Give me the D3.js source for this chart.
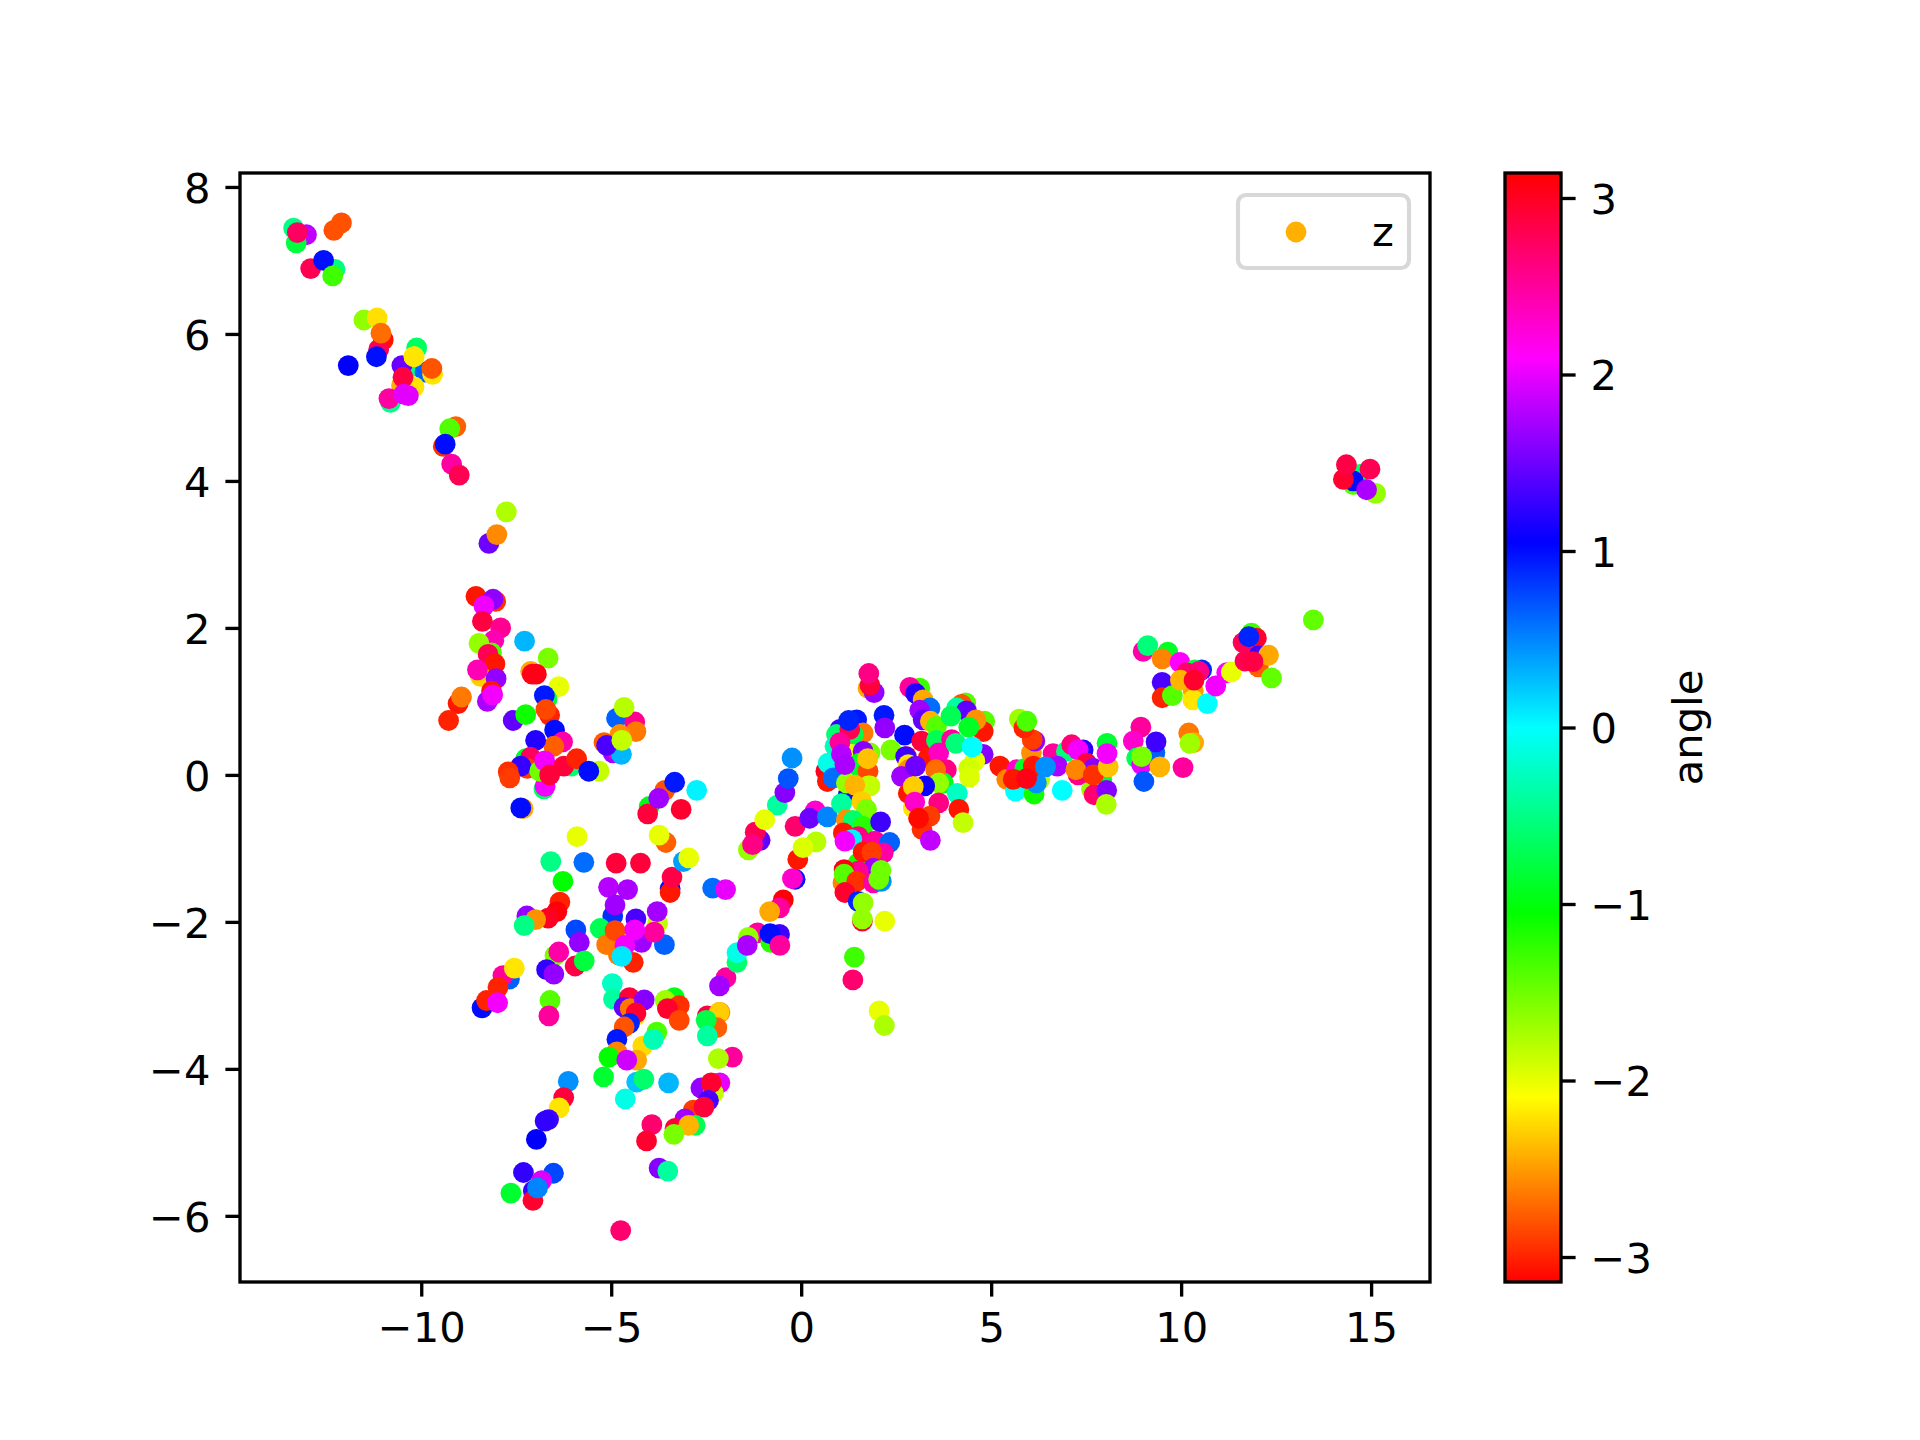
<!DOCTYPE html>
<html>
<head>
<meta charset="utf-8">
<script src="https://cdn.jsdelivr.net/npm/d3@7/dist/d3.min.js"></script>
<style>
  html, body { margin: 0; background: #fff; }
  svg { display: block; }
  text { font-family: "DejaVu Sans", sans-serif; fill: #000; }
</style>
</head>
<body>
<svg width="1920" height="1440"></svg>
<script>
// points, one x / y / angle triple per group (draw order = list order)
const armX = [-13.36,-13.02,-13.29,-13.26,-12.30,-12.10,-12.91,-12.27,-12.57,-12.33,-11.51,-11.16,-11.00,-11.12,-11.06,-11.18,-11.92,-10.12,-10.32,-9.90,-9.70,-9.72,-10.52,-10.19,-10.51,-10.48,-10.19,-10.81,-10.34,-10.85,-10.46,-10.19,-9.09,-9.25,-9.42,-9.37,-9.20,-9.00,-7.76,-8.22,-8.01];
const armY = [7.44,7.35,7.24,7.38,7.41,7.51,6.89,6.88,7.00,6.79,6.19,6.22,5.92,5.79,6.01,5.69,5.57,5.81,5.54,5.48,5.45,5.53,5.30,5.28,5.57,5.41,5.69,5.07,5.16,5.12,5.18,5.69,4.74,4.71,4.47,4.50,4.23,4.08,3.58,3.15,3.27];
const armAngle = [-0.5,1.83,-0.8,2.74,-2.81,-2.81,2.81,-0.52,0.98,-1.3,-1.64,-2.22,-3.07,2.8,-2.7,0.98,1.05,-0.65,-0.5,0.65,-2.2,-2.8,-2.42,-2.2,1.48,2.88,-2.2,-0.5,1.97,2.48,1.98,-2.2,-2.75,-1.38,-2.95,1.0,2.48,2.8,-1.76,1.5,-2.58];

const upperLeftX = [-8.56,-8.04,-8.11,-8.35,-8.39,-7.91,-8.09,-7.28,-6.66,-7.12,-7.08,-6.97,-8.15,-8.48,-8.24,-8.06,-8.44,-8.52,-8.03,-6.38,-6.69,-6.76,-8.15,-8.26,-8.12,-9.03,-8.94,-9.28,-7.58,-7.25,-6.62,-6.72,-4.86,-4.38,-4.35,-4.77,-5.19,-4.95,-4.86,-4.73,-5.12,-4.66,-4.72];
const upperLeftY = [2.43,2.36,2.39,2.30,2.09,2.00,1.83,1.82,1.59,1.41,1.37,1.37,1.66,1.79,1.64,1.51,1.34,1.43,1.31,1.20,1.03,1.08,1.14,1.00,1.09,0.97,1.06,0.74,0.74,0.82,0.81,0.89,0.77,0.72,0.59,0.55,0.44,0.30,0.34,0.28,0.40,0.92,0.47];
const upperLeftAngle = [-3.05,-2.95,1.64,2.03,2.88,2.55,2.4,0.3,-1.55,-2.45,3.05,3.05,-1.4,-1.65,2.8,-3.05,-2.3,2.4,1.65,-2.0,-0.8,0.95,-3.05,1.75,2.05,-3.05,-2.65,-3.0,1.45,-1.1,-3.0,-2.85,0.65,2.55,-2.65,-2.55,-2.75,1.7,2.55,0.3,1.35,-1.8,-1.85];

const leftClusterX = [-6.49,-6.28,-6.51,-6.99,-7.25,-7.12,-7.21,-7.38,-7.71,-7.67,-6.77,-6.74,-6.88,-6.05,-6.75,-6.62,-6.25,-5.91,-5.32,-5.59,-7.32,-7.38,-3.59,-3.33,-2.75,-4.00,-4.04,-3.75,-3.16];
const leftClusterY = [0.61,0.45,0.39,0.47,0.22,0.24,0.09,0.12,0.04,-0.04,-0.19,-0.155,0.05,0.12,0.19,0.0,0.12,0.22,0.05,0.05,-0.46,-0.45,-0.21,-0.10,-0.21,-0.43,-0.53,-0.32,-0.47];
const leftClusterAngle = [1.0,2.45,-2.75,1.19,-0.9,2.75,-2.9,1.26,-2.95,-2.9,-0.65,2.05,-1.5,-0.6,2.05,2.9,2.9,-3.0,-1.85,1.0,-2.45,1.0,-2.8,0.95,0.05,-0.95,2.9,1.7,2.95];

const midX = [-5.90,-6.59,-5.72,-4.87,-4.23,-6.27,-5.07,-4.57,-6.35,-6.43,-6.66,-7.22,-6.99,-7.29,-4.96,-4.35,-3.78,-3.79,-4.90,-5.29,-4.42,-4.81,-5.12,-4.20,-3.60,-4.90,-5.93,-3.87,-4.38,-5.84,-4.64,-4.72,-6.48,-6.38,-6.70,-6.51,-5.95,-5.71];
const midY = [-0.84,-1.18,-1.19,-1.20,-1.20,-1.45,-1.53,-1.56,-1.73,-1.86,-1.95,-1.92,-1.97,-2.05,-1.92,-1.96,-2.02,-1.86,-1.77,-2.09,-2.55,-2.45,-2.31,-2.28,-2.31,-2.12,-2.11,-2.14,-2.11,-2.28,-2.32,-2.47,-2.46,-2.41,-2.65,-2.71,-2.60,-2.53];
const midAngle = [-2.0,-0.5,0.6,2.9,2.9,-1.05,1.8,1.75,-3.0,3.1,3.0,1.65,-2.55,-0.5,0.85,1.35,-1.85,1.72,1.7,-0.7,-3.0,-2.65,-2.65,1.7,0.65,-2.85,0.75,2.5,2.05,1.65,2.05,0.1,-1.55,2.45,1.25,1.65,2.85,-0.8];

const lowerLeftX = [-7.68,-7.85,-7.55,-7.98,-8.40,-8.28,-7.99,-6.61,-6.64,-4.97,-4.94,-4.52,-4.66,-4.50,-4.13,-4.37,-4.35,-4.52,-4.66,-4.85,-3.34,-3.58,-3.21,-3.52,-3.21,-4.17,-3.80,-3.89,-2.14,-2.47,-2.16,-2.22,-2.50,-2.47,-1.81,-2.18,-4.85,-4.33,-5.06,-4.59,-5.20,-4.33,-4.14,-3.49,-4.63];
const lowerLeftY = [-2.78,-2.73,-2.63,-2.89,-3.17,-3.07,-3.10,-3.07,-3.28,-2.84,-3.05,-3.03,-3.16,-3.18,-3.06,-3.28,-3.24,-3.38,-3.43,-3.60,-3.03,-3.07,-3.14,-3.18,-3.34,-3.69,-3.50,-3.60,-3.23,-3.28,-3.23,-3.44,-3.34,-3.55,-3.84,-3.86,-3.77,-3.88,-3.84,-3.88,-4.11,-4.18,-4.14,-4.19,-4.41];
const lowerLeftAngle = [0.65,2.5,-2.2,-3.0,1.0,-3.0,2.05,-1.4,2.5,-0.25,-0.4,2.9,1.45,-2.65,1.6,-2.2,2.95,0.9,-2.8,0.95,-0.95,-1.7,-2.95,2.95,-2.85,-2.25,-1.35,-0.3,-2.65,2.85,-2.3,-2.75,-0.75,-0.4,2.5,-1.75,-2.6,-2.45,-1.05,1.9,-0.85,0.25,-0.6,0.3,-0.1];

const bottomX = [-6.13,-6.25,-6.37,-6.65,-6.74,-6.97,-2.64,-2.14,-2.31,-2.37,-2.44,-2.84,-2.56,-3.06,-3.32,-2.79,-2.96,-3.35,-3.93,-4.07,-3.74,-3.51,-7.31,-6.52,-6.83,-7.64,-7.05,-7.06,-6.94,-4.75];
const bottomY = [-4.17,-4.39,-4.53,-4.69,-4.71,-4.96,-4.26,-4.19,-4.33,-4.19,-4.43,-4.56,-4.52,-4.68,-4.81,-4.77,-4.77,-4.89,-4.76,-4.98,-5.35,-5.39,-5.41,-5.42,-5.52,-5.69,-5.66,-5.79,-5.62,-6.20];
const bottomAngle = [0.45,2.9,-2.2,1.3,1.25,1.05,1.65,2.0,-1.85,2.95,1.35,-2.9,2.9,1.7,2.9,-0.7,-2.4,-1.55,2.7,2.95,1.6,-0.4,1.25,0.75,1.95,-0.85,1.25,2.95,0.5,2.7];

const diagX = [-1.98,-2.15,-1.69,-1.69,-1.15,-1.39,-1.42,-0.80,-0.57,-0.82,-0.56,-0.47,-0.57,-0.83,-0.16,-0.23,-0.09,0.39,0.05,-0.16,0.37,0.22,0.69,-0.63,-0.43,-0.34,-0.24,-1.08,-1.21,-1.39,-1.28,-0.96,-2.33,-1.99,-3.45,-3.45,-3.40,-3.10,-2.96,-3.56,-3.74];
const diagY = [-2.76,-2.87,-2.55,-2.42,-2.15,-2.21,-2.32,-2.28,-2.17,-2.16,-2.32,-1.70,-1.81,-1.86,-1.42,-1.41,-1.15,-0.91,-0.99,-0.70,-0.49,-0.59,-0.57,-0.41,-0.24,-0.05,0.23,-0.89,-0.78,-1.02,-0.95,-0.61,-1.54,-1.56,-1.55,-1.60,-1.39,-1.18,-1.13,-0.92,-0.82];
const diagAngle = [2.5,1.72,-0.6,-0.1,2.5,-1.65,1.75,-1.2,1.3,1.0,2.5,3.1,2.5,-2.45,1.0,2.3,-3.05,-1.8,-1.95,2.7,2.3,1.5,0.5,-0.4,1.6,0.7,0.45,1.45,2.8,-1.65,2.6,-2.0,0.6,2.0,1.0,-3.05,2.85,0.4,-2.0,-2.75,-2.0];

const spineX = [1.76,1.92,1.81,1.78,2.18,2.20,2.72,2.36,1.02,0.93,1.46,1.63,1.37,1.28,1.25,0.89,1.28,1.33,1.81,1.63,1.54,1.50,1.76,1.75,0.65,0.69,0.71,0.84,1.24,1.19,1.76,1.81,1.41,1.06,1.59,1.72,1.19,1.02,1.06,1.15,1.37,1.63,2.09,1.11,1.50,1.94,2.33,1.33,1.15,2.16,1.50,1.63,1.86,1.90,1.50,1.10,1.13,1.13,1.46,1.15,1.90,2.11,2.10,2.04,1.50,1.63,1.61,1.61,2.20,1.40,1.36,2.05,2.19];
const spineY = [1.18,1.12,1.22,1.38,0.81,0.64,0.54,0.34,0.62,0.55,0.75,0.57,0.55,0.62,0.74,0.39,0.25,0.28,0.30,0.32,0.16,0.12,0.05,0.22,0.05,-0.09,0.16,-0.04,-0.27,-0.11,-0.15,-0.15,-0.14,-0.39,-0.36,-0.47,-0.61,0.44,0.28,0.14,-0.62,-0.70,-0.64,-0.79,-0.84,-0.90,-0.92,-0.88,-0.90,-1.06,-1.20,-1.05,-1.05,-1.27,-1.31,-1.47,-1.29,-1.35,-1.45,-1.60,-1.47,-1.45,-1.30,-1.42,-1.72,-1.74,-1.99,-1.96,-1.99,-2.48,-2.79,-3.21,-3.41];
const spineAngle = [-2.45,1.65,2.9,2.6,0.95,1.65,1.0,-1.55,1.3,-0.6,0.95,-2.65,-0.75,2.8,0.9,-0.3,-2.1,-2.0,-1.55,1.6,-1.0,-0.9,-2.85,-2.35,3.0,-3.05,-0.1,0.6,1.0,-1.65,-1.75,-1.85,-2.4,-0.4,-2.3,-1.55,-2.55,2.5,1.8,1.75,-0.6,-1.2,1.3,-3.05,2.6,2.5,0.65,0.05,2.05,2.45,-1.15,-3.05,-2.9,1.7,2.55,-2.6,3.05,-1.4,-2.95,2.95,2.45,0.45,-1.5,-1.5,0.9,-1.65,2.9,-1.65,-2.0,-1.3,2.7,-2.0,-1.75];

const peakX = [3.12,2.86,3.01,3.21,3.39,3.12,3.21,3.40,3.56,3.17,3.34,2.77,2.75,2.82,2.82,2.64,3.56,3.62,3.82,3.74,3.01,3.54,3.62,3.25,2.82,2.95,2.95,2.99,3.62,3.39,3.18,3.09,3.40,4.11,4.15,4.26,4.33,4.22,4.09,4.35,3.94,4.83,4.79,4.60,4.41,3.96,4.07,4.79,4.57,4.41,4.43,4.50];
const peakY = [1.18,1.19,1.11,1.02,0.91,0.88,0.75,0.73,0.66,0.46,0.23,0.25,0.25,0.14,0.07,-0.02,0.47,0.30,0.07,-0.11,0.12,0.07,-0.11,-0.15,-0.25,-0.16,-0.45,-0.37,-0.38,-0.56,-0.74,-0.59,-0.89,-0.25,-0.47,-0.65,0.98,0.96,0.91,0.87,0.80,0.73,0.59,0.75,0.65,0.48,0.43,0.28,0.19,0.09,-0.03,0.38];
const peakAngle = [-1.3,2.5,1.2,-2.45,0.6,1.7,1.45,-2.4,-1.4,2.9,-3.05,-3.05,1.3,-2.2,-2.55,1.7,-0.7,2.35,2.6,-0.9,1.5,-2.7,-1.65,1.1,-3.05,-2.3,-2.2,2.3,2.6,-2.9,-2.95,-3.1,1.85,-0.25,-3.05,-1.85,-1.4,-2.8,-0.4,1.45,-0.7,-1.4,-3.05,-2.55,-0.9,2.5,-0.55,1.6,-2.0,-1.9,-1.95,0.0];

const ridgeX = [5.23,5.41,5.62,5.64,5.67,6.13,5.89,6.06,6.15,6.08,5.74,5.86,5.94,6.87,6.28,6.19,6.11,5.58,5.93,6.63,6.98,7.12,7.42,7.29,7.51,7.69,6.74,6.43,7.91,7.64,7.71,8.04,7.29,7.23,7.69,8.05,8.08,8.05,8.03];
const ridgeY = [0.12,-0.06,-0.13,-0.22,0.07,-0.26,0.09,0.30,0.46,0.48,0.76,0.64,0.73,-0.21,-0.06,-0.11,0.12,-0.06,-0.05,0.29,0.32,0.41,0.34,0.34,0.16,0.09,0.12,0.11,-0.06,-0.20,-0.27,-0.21,0.0,0.07,0.0,0.43,0.11,0.29,-0.40];
const ridgeAngle = [-3.05,-2.6,-2.6,0.0,2.3,-1.1,-0.9,-2.55,1.65,-2.9,-1.7,-3.0,-1.35,0.0,-1.8,0.45,-3.05,-3.05,3.05,2.5,-0.55,2.65,1.2,2.05,2.85,1.6,1.75,0.45,-0.85,-1.65,2.7,1.6,2.6,-2.6,-2.95,-0.85,-2.35,2.05,-1.75];

const rightX = [8.94,8.74,9.31,9.34,8.83,8.96,8.96,9.44,9.02,10.05,10.20,10.33,10.23,9.00,9.12,9.65,9.50,9.97,10.54,10.36,10.47,10.14,9.50,10.32,10.31,9.50,9.77,9.98,10.34,11.20,11.32,10.69,10.91,11.85,11.98,11.63,11.78,12.03,12.03,11.68,12.30,11.89,12.38,13.48,14.53,14.70,14.53,15.12,14.27,14.35,14.97,14.88];
const rightY = [0.65,0.46,0.30,0.45,0.23,0.14,0.25,0.11,-0.09,0.10,0.57,0.44,0.43,1.68,1.76,1.67,1.58,1.53,1.43,1.43,1.41,1.39,1.26,1.14,1.02,1.05,1.08,1.29,1.29,1.39,1.40,0.97,1.21,1.93,1.86,1.80,1.88,1.62,1.47,1.55,1.63,1.54,1.32,2.11,3.95,4.09,4.00,3.83,4.02,4.22,4.16,3.88];
const rightAngle = [2.5,2.3,0.65,1.3,-0.7,2.0,-1.55,-2.4,0.7,2.5,-2.65,-2.45,-1.7,2.45,-0.55,-0.9,-2.6,2.1,0.9,-0.75,2.6,2.7,1.35,-2.5,-2.2,-3.0,-1.4,-2.4,2.95,2.1,-2.0,0.0,2.05,-1.3,2.95,2.8,0.9,1.3,-2.75,2.8,-2.45,2.85,-1.45,-1.45,-1.4,-0.6,1.0,-1.65,2.95,2.85,2.8,1.75];

const xTicks = [-10,-5,0,5,10,15];
const yTicks = [-6,-4,-2,0,2,4,6,8];
const angleTicks = [-3,-2,-1,0,1,2,3];
const seriesName = 'z';
const angleLabel = 'angle';

const svg = d3.select('svg');
const margin = {top: 173, left: 240, right: 1430, bottom: 1282};
const fontSize = 41.67, lineW = 3.33, tickLen = 14.6, tickPad = 15;
const minus = d => String(d).replace('-', '\u2212');

const xScale = d3.scaleLinear().domain([-14.77, 16.55]).range([margin.left, margin.right]);
const yScale = d3.scaleLinear().domain([-6.9, 8.19]).range([margin.bottom, margin.top]);
const cScale = d3.scaleLinear().domain([-Math.PI, Math.PI]).range([margin.bottom, margin.top]);
const color = a => d3.hsl((a + Math.PI) / (2 * Math.PI) * 360, 1, 0.5).formatRgb();

const xs = [armX, upperLeftX, leftClusterX, midX, lowerLeftX, bottomX, diagX, spineX, peakX, ridgeX, rightX].flat();
const ys = [armY, upperLeftY, leftClusterY, midY, lowerLeftY, bottomY, diagY, spineY, peakY, ridgeY, rightY].flat();
const angles = [armAngle, upperLeftAngle, leftClusterAngle, midAngle, lowerLeftAngle, bottomAngle, diagAngle, spineAngle, peakAngle, ridgeAngle, rightAngle].flat();
const points = xs.map((x, i) => ({x, y: ys[i], angle: angles[i]}));

// scatter
svg.append('g').selectAll('circle').data(points)
  .enter().append('circle')
    .attr('cx', d => xScale(d.x))
    .attr('cy', d => yScale(d.y))
    .attr('r', 10.4)
    .attr('fill', d => color(d.angle));

// axes
const styleAxis = g => {
  g.select('.domain').remove();
  g.selectAll('line').attr('stroke', '#000').attr('stroke-width', lineW);
  g.selectAll('text').attr('font-size', fontSize).attr('font-family', '"DejaVu Sans", sans-serif').attr('fill', '#000');
};
svg.append('g').attr('transform', `translate(0,${margin.bottom})`)
  .call(d3.axisBottom(xScale).tickValues(xTicks).tickFormat(minus).tickSize(tickLen).tickPadding(tickPad + 1))
  .call(styleAxis);
svg.append('g').attr('transform', `translate(${margin.left},0)`)
  .call(d3.axisLeft(yScale).tickValues(yTicks).tickFormat(minus).tickSize(tickLen).tickPadding(tickPad))
  .call(styleAxis)
  .selectAll('text').attr('dy', '0.37em');
svg.append('rect')
  .attr('x', margin.left).attr('y', margin.top)
  .attr('width', margin.right - margin.left).attr('height', margin.bottom - margin.top)
  .attr('fill', 'none').attr('stroke', '#000').attr('stroke-width', lineW);

// legend
const legend = svg.append('g');
legend.append('rect')
  .attr('x', 1238).attr('y', 195).attr('width', 171).attr('height', 73).attr('rx', 8)
  .attr('fill', '#fff').attr('stroke', '#d8d8d8').attr('stroke-width', 4.17);
legend.append('circle').attr('cx', 1296).attr('cy', 232).attr('r', 10.4).attr('fill', '#ffb000');
legend.append('text').attr('x', 1372).attr('y', 246).attr('font-size', fontSize).text(seriesName);

// colorbar
const barX = 1505, barW = 56;
const grad = svg.append('defs').append('linearGradient')
  .attr('id', 'hsv').attr('x1', 0).attr('y1', 1).attr('x2', 0).attr('y2', 0);
d3.range(0, 25).forEach(i => {
  const t = i / 24;
  grad.append('stop').attr('offset', t).attr('stop-color', color(-Math.PI + t * 2 * Math.PI));
});
svg.append('rect')
  .attr('x', barX).attr('y', margin.top).attr('width', barW).attr('height', margin.bottom - margin.top)
  .attr('fill', 'url(#hsv)').attr('stroke', '#000').attr('stroke-width', lineW);
svg.append('g').attr('transform', `translate(${barX + barW},0)`)
  .call(d3.axisRight(cScale).tickValues(angleTicks).tickFormat(minus).tickSize(tickLen).tickPadding(tickPad))
  .call(styleAxis)
  .selectAll('text').attr('dy', '0.37em');
svg.append('text')
  .attr('transform', `translate(1702,727.5) rotate(-90)`)
  .attr('text-anchor', 'middle').attr('font-size', fontSize)
  .text(angleLabel);
</script>
</body>
</html>
